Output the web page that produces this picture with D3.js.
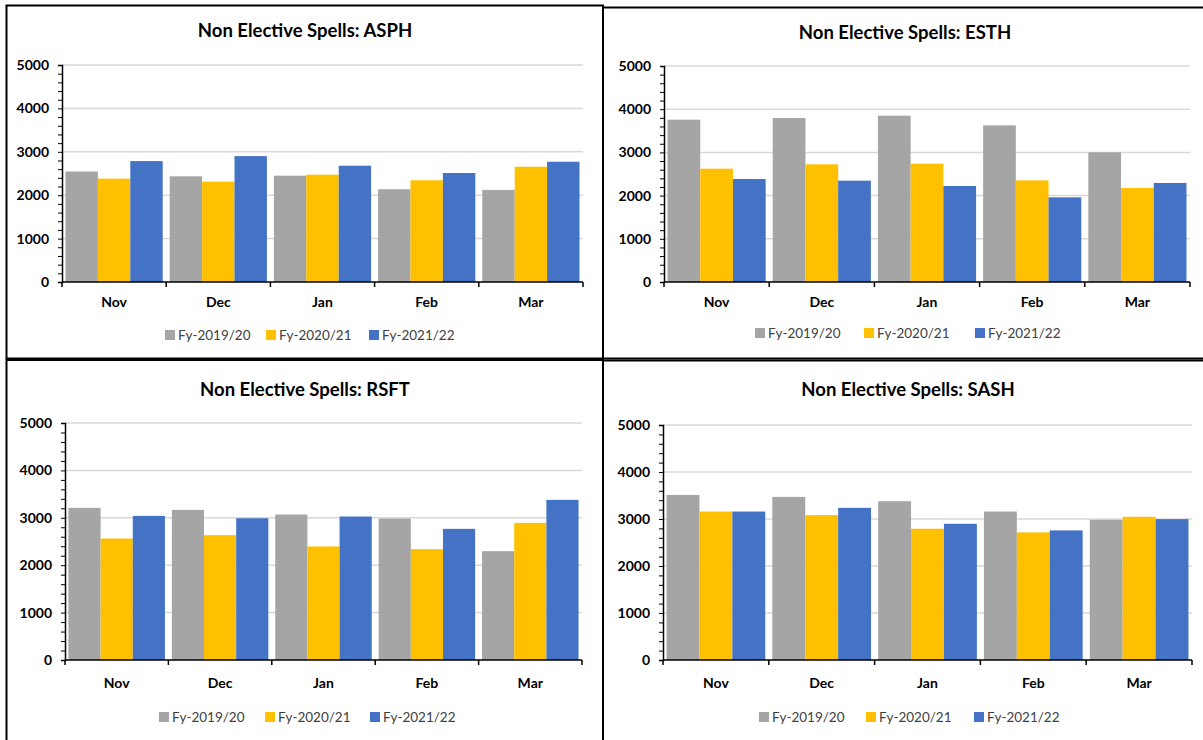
<!DOCTYPE html>
<html><head><meta charset="utf-8">
<script src="https://cdn.jsdelivr.net/npm/d3@7"></script>
<style>
html,body{margin:0;padding:0;background:#fff;overflow:hidden}
svg{display:block}
text{font-family:Lato,"Open Sans",sans-serif}
</style></head>
<body><svg id="c" width="1203" height="740"></svg>
<script>
// ---- data ----
const months = ["Nov","Dec","Jan","Feb","Mar"];
const seriesNames = ["Fy-2019/20","Fy-2020/21","Fy-2021/22"];
const yTicks = [0,1000,2000,3000,4000,5000];
const titles = ["Non Elective Spells: ASPH","Non Elective Spells: ESTH","Non Elective Spells: RSFT","Non Elective Spells: SASH"];
const asph = [
  [2545,2435,2450,2137,2122],
  [2382,2313,2473,2344,2656],
  [2786,2901,2679,2511,2771]
];
const esth = [
  [3758,3796,3850,3627,3002],
  [2623,2724,2739,2353,2176],
  [2384,2346,2222,1960,2292]
];
const rsft = [
  [3210,3167,3069,2985,2296],
  [2563,2633,2395,2338,2893],
  [3040,2991,3027,2767,3378]
];
const sash = [
  [3512,3470,3378,3159,2983],
  [3159,3082,2793,2715,3047],
  [3159,3237,2898,2757,2997]
];
const panelData = [asph, esth, rsft, sash];

// ---- layout / style ----
const colors = ["#A5A5A5","#FFC000","#4472C4"];
const layouts = [
  {bx0:6.5,by0:5.5,bx1:603,by1:358.5, l:62,r:583,t:65,b:282, tx:305,ty:37, ly:302, gy:335, lx:[165,266,369]},
  {bx0:603,by0:7.5,bx1:1215,by1:358.5, l:664,r:1190,t:66,b:282, tx:905,ty:39, ly:302, gy:333, lx:[755,864,975]},
  {bx0:6.5,by0:360,bx1:603,by1:760, l:65,r:582,t:423,b:660, tx:305,ty:396, ly:683, gy:717, lx:[159,265,370]},
  {bx0:603,by0:360.5,bx1:1215,by1:760, l:663,r:1192,t:425,b:660, tx:908,ty:396, ly:683, gy:717, lx:[759,866,974]}
];

const svg = d3.select("#c");

layouts.forEach((L,pi)=>{
  const g = svg.append("g");
  const data = panelData[pi];
  const x0 = d3.scaleBand().domain(months).range([L.l,L.r]).paddingInner(0.067).paddingOuter(0.0335);
  const x1 = d3.scaleBand().domain(seriesNames).range([0,x0.bandwidth()]);
  const y = d3.scaleLinear().domain([0,5000]).range([L.b,L.t]);

  // gridlines
  g.append("g").selectAll("line").data(yTicks.filter(d=>d>0)).join("line")
    .attr("x1",L.l).attr("x2",L.r).attr("y1",d=>y(d)).attr("y2",d=>y(d))
    .attr("stroke","#d9d9d9").attr("stroke-width",1.5);

  // bars
  seriesNames.forEach((s,si)=>{
    g.append("g").selectAll("rect").data(months).join("rect")
      .attr("x",(m)=>x0(m)+x1(s))
      .attr("width",x1.bandwidth())
      .attr("y",(m,i)=>y(data[si][i]))
      .attr("height",(m,i)=>y(0)-y(data[si][i]))
      .attr("fill",colors[si]);
  });

  // y axis
  const yAxis = d3.axisLeft(y).tickValues(d3.range(0,5001,200)).tickSize(4).tickFormat(d=> yTicks.includes(d)? d : "");
  const ya = g.append("g").attr("transform",`translate(${L.l},0)`).call(yAxis);
  ya.select(".domain").attr("stroke","#000").attr("stroke-width",1.5);
  ya.selectAll(".tick line").attr("stroke","#000").attr("stroke-width",1);
  ya.selectAll(".tick text").attr("x",-13).attr("font-size","14px").attr("font-weight","bold").attr("fill","#000");

  // x axis
  const xa = g.append("g").attr("transform",`translate(0,${L.b})`);
  xa.append("line").attr("x1",L.l).attr("x2",L.r).attr("stroke","#000").attr("stroke-width",1.5);
  const bounds = months.map(m=>x0(m)-x0.step()*x0.paddingInner()/2).concat([L.r]);
  xa.selectAll("line.tk").data(bounds).join("line").attr("class","tk")
    .attr("x1",d=>d).attr("x2",d=>d).attr("y1",0).attr("y2",5).attr("stroke","#000").attr("stroke-width",1.5);
  g.append("g").selectAll("text").data(months).join("text")
    .attr("x",m=>x0(m)+x0.bandwidth()/2).attr("y",L.ly+5)
    .attr("text-anchor","middle").attr("font-size","14px").attr("font-weight","bold").text(m=>m);

  // title
  g.append("text").attr("x",L.tx).attr("y",L.ty).attr("text-anchor","middle")
    .attr("font-size","18.5px").attr("font-weight","bold").attr("fill","#000").text(titles[pi]);

  // legend
  const lg = g.append("g");
  seriesNames.forEach((s,si)=>{
    lg.append("rect").attr("x",L.lx[si]).attr("y",L.gy-5).attr("width",10).attr("height",10).attr("fill",colors[si]);
    lg.append("text").attr("x",L.lx[si]+13).attr("y",L.gy+5).attr("font-size","13.5px").attr("fill","#404040").text(s);
  });

  // border
  g.append("rect").attr("x",L.bx0).attr("y",L.by0).attr("width",L.bx1-L.bx0).attr("height",L.by1-L.by0)
    .attr("fill","none").attr("stroke","#000").attr("stroke-width",2);
});
</script></body></html>
